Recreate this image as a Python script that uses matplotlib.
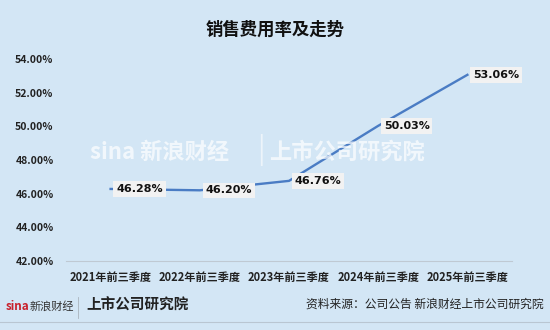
import matplotlib
matplotlib.use("Agg")
import matplotlib.pyplot as plt
from matplotlib.ticker import FuncFormatter, MultipleLocator

plt.rcParams['font.family'] = ['Noto Sans CJK SC', 'DejaVu Sans']

categories = ["2021年前三季度", "2022年前三季度", "2023年前三季度", "2024年前三季度", "2025年前三季度"]
values = [46.28, 46.20, 46.76, 50.03, 53.06]
title = "销售费用率及走势"
source = "资料来源：公司公告 新浪财经上市公司研究院"

bg = "#D3E6F5"
fig = plt.figure(figsize=(5.5, 3.3), dpi=100, facecolor=bg)
ax = fig.add_axes([66/550, 1-261/330, (512-66)/550, (261-59)/330])
ax.set_facecolor(bg)

# watermark (behind everything)
fig.text(0.29, 1-152/330, "sina 新浪财经", ha="center", va="center", fontsize=16,
         color="white", alpha=0.7, fontweight="bold", zorder=0)
fig.text(0.475, 1-150/330, "|", ha="center", va="center", fontsize=20, color="white", alpha=0.6, zorder=0)
fig.text(0.63, 1-152/330, "上市公司研究院", ha="center", va="center", fontsize=16,
         color="white", alpha=0.7, fontweight="bold", style="italic", zorder=0)

x = list(range(len(categories)))
ax.plot(x, values, color="#4A7CC4", lw=1.7, zorder=3)
for xi, v in zip(x, values):
    ax.annotate(f"{v:.2f}%", (xi, v), xytext=(4, 0), textcoords="offset points",
                ha="left", va="center", fontsize=8, fontweight="bold", color="#111111",
                family=['DejaVu Sans'],
                bbox=dict(boxstyle="square,pad=0.25", fc="#F2F2F2", ec="none"), zorder=4)

ax.set_xlim(-0.5, len(categories) - 0.5)
ax.set_ylim(42, 54)
ax.yaxis.set_major_locator(MultipleLocator(2))
ax.yaxis.set_major_formatter(FuncFormatter(lambda v, p: f"{v:.2f}%"))
ax.set_xticks(x)
ax.set_xticklabels(categories)
for lab in ax.get_yticklabels():
    lab.set_fontsize(7.5); lab.set_fontweight("bold"); lab.set_color("#222222")
for lab in ax.get_xticklabels():
    lab.set_fontsize(8); lab.set_fontweight("bold"); lab.set_color("#222222")
ax.tick_params(axis="both", length=0)
ax.tick_params(axis="y", pad=9)
ax.tick_params(axis="x", pad=7)
for s in ["top", "right", "left"]:
    ax.spines[s].set_visible(False)
ax.spines["bottom"].set_color("#BFC9D3")
ax.spines["bottom"].set_linewidth(0.8)

fig.text(0.5, 1-30/330, title, ha="center", va="center", fontsize=12.5, fontweight="bold", color="#111111")

# footer
fig.text(6/550, 1-307/330, "sina", ha="left", va="center", fontsize=8.5, color="#C8202B",
         fontweight="bold", style="italic")
fig.text(30/550, 1-306/330, "新浪财经", ha="left", va="center", fontsize=8, color="#333333", style="italic")
fig.add_artist(plt.Line2D([78/550, 78/550], [1-297/330, 1-318/330], color="#AAB4BE", lw=0.6))
fig.text(86/550, 1-305/330, "上市公司研究院", ha="left", va="center", fontsize=10.5, color="#222222",
         fontweight="bold", style="italic")
fig.text(544/550, 1-304/330, source, ha="right", va="center", fontsize=8.5, color="#222222")
fig.add_artist(plt.Line2D([0, 1], [1-322/330, 1-322/330], color="#B9C6D2", lw=0.8))

fig.savefig("out.png", dpi=100, facecolor=bg)
